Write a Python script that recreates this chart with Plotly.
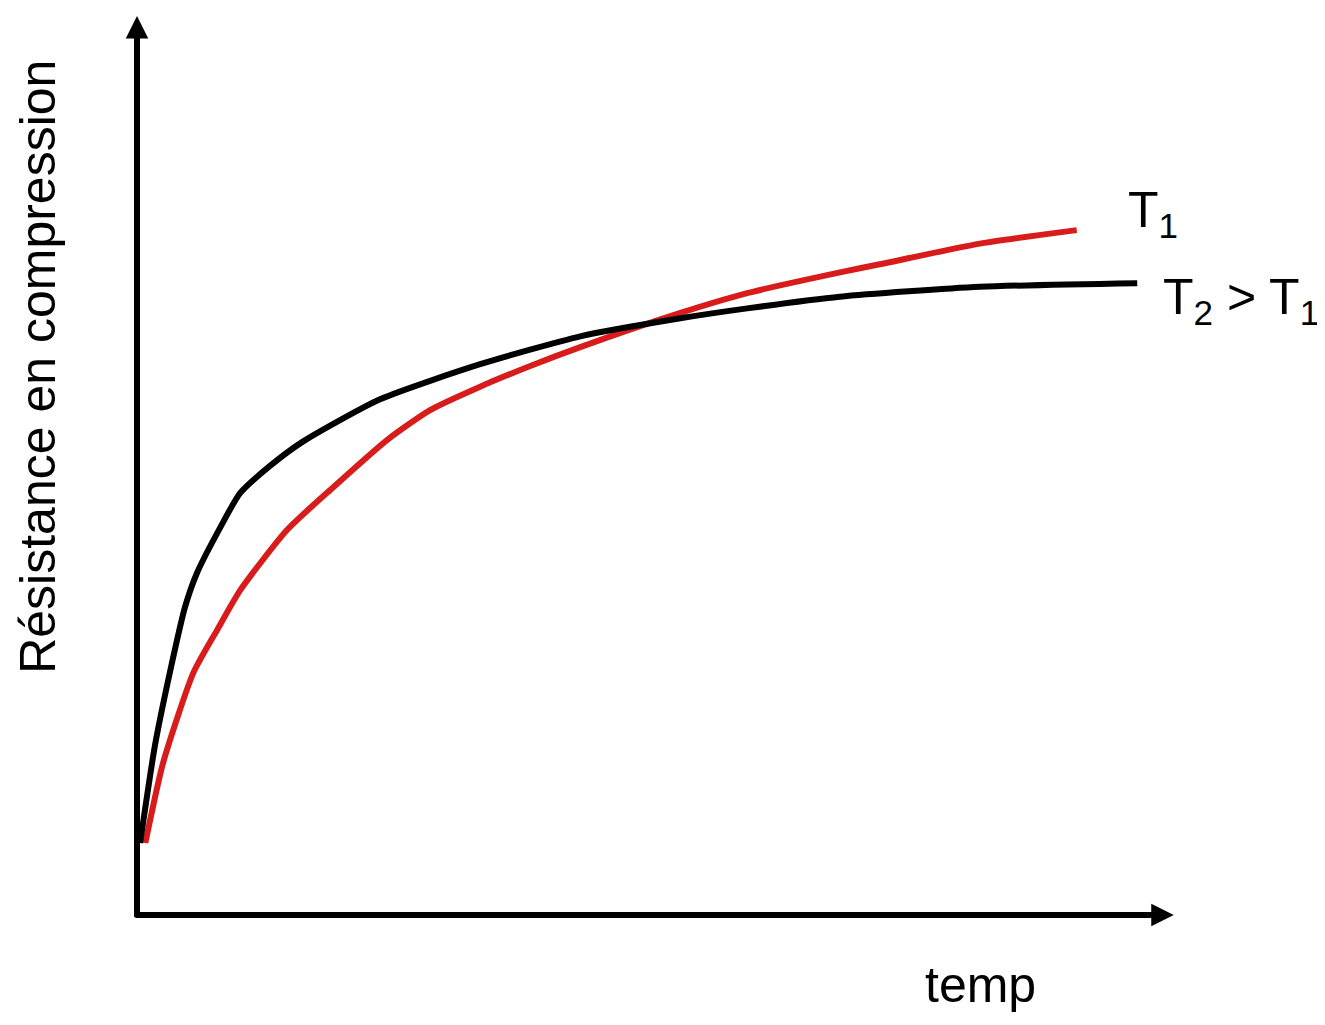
import plotly.graph_objects as go

# Data (arbitrary units)
t2_x = [0.3, 1.7, 3.2, 4.6, 5.75, 8.0, 9.9, 12.75, 15.9, 23.3, 32.9, 42.5, 52.1, 58.5, 67.4, 80.8, 95.9]
t2_y = [8.0, 18.7, 27.2, 34.2, 38.0, 43.1, 46.9, 49.9, 52.6, 57.3, 61.2, 64.3, 66.3, 67.4, 68.7, 69.8, 70.2]

t1_x = [0.8, 2.5, 5.4, 7.7, 9.9, 14.4, 18.5, 24.0, 28.1, 32.9, 37.7, 42.5, 52.1, 58.5, 67.4, 71.2, 80.8, 90.1]
t1_y = [8.0, 16.9, 26.9, 31.7, 36.1, 42.8, 47.2, 52.8, 56.1, 58.7, 61.0, 63.1, 66.9, 69.1, 71.4, 72.3, 74.6, 76.1]

label_t1 = "T<sub>1</sub>"
label_t2 = "T<sub>2</sub> > T<sub>1</sub>"
x_title = "temp"
y_title = "Résistance en compression"

FONT = "Liberation Sans"

fig = go.Figure()
fig.add_trace(go.Scatter(x=t1_x, y=t1_y, mode="lines",
                         line=dict(color="#d81c1c", width=6, shape="spline", smoothing=0.6),
                         showlegend=False, hoverinfo="skip"))
fig.add_trace(go.Scatter(x=t2_x, y=t2_y, mode="lines",
                         line=dict(color="#000000", width=6, shape="spline", smoothing=0.6),
                         showlegend=False, hoverinfo="skip"))

ann = []
# axes with arrowheads
ann.append(dict(x=0, y=99.9, ax=0, ay=-0.4, xref="x", yref="y", axref="x", ayref="y",
                showarrow=True, arrowhead=2, arrowwidth=6, arrowsize=0.75, arrowcolor="black", text=""))
ann.append(dict(x=99.4, y=0, ax=-0.3, ay=0, xref="x", yref="y", axref="x", ayref="y",
                showarrow=True, arrowhead=2, arrowwidth=6, arrowsize=0.75, arrowcolor="black", text=""))
# curve labels
ann.append(dict(x=94.8, y=78.0, xref="x", yref="y", text=label_t1, showarrow=False,
                xanchor="left", yanchor="middle", font=dict(family=FONT, size=50, color="black")))
ann.append(dict(x=98.2, y=68.3, xref="x", yref="y", text=label_t2, showarrow=False,
                xanchor="left", yanchor="middle", font=dict(family=FONT, size=50, color="black")))
# axis titles
ann.append(dict(x=0.809, y=-0.078, xref="paper", yref="paper", text=x_title, showarrow=False,
                xanchor="center", yanchor="middle", font=dict(family=FONT, size=50, color="black")))
ann.append(dict(x=-0.095, y=0.609, xref="paper", yref="paper", text=y_title, showarrow=False,
                textangle=-90, xanchor="center", yanchor="middle",
                font=dict(family=FONT, size=50, color="black")))

fig.update_layout(
    width=1325, height=1025,
    margin=dict(l=129, r=153, t=7, b=118),
    paper_bgcolor="white", plot_bgcolor="white",
    xaxis=dict(range=[0, 100], visible=False, fixedrange=True),
    yaxis=dict(range=[0, 100], visible=False, fixedrange=True),
    annotations=ann,
    showlegend=False,
)
fig.write_html("out.html")
